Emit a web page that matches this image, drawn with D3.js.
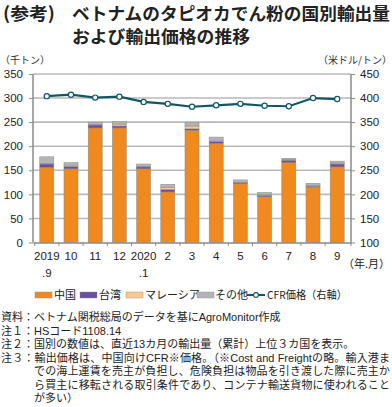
<!DOCTYPE html>
<html><head><meta charset="utf-8">
<script src="https://cdn.jsdelivr.net/npm/d3@7"></script>
<style>
html,body{margin:0;padding:0;background:#fff;}
body{position:relative;width:392px;height:407px;overflow:hidden;}
svg{display:block;font-family:"Noto Sans CJK JP","Noto Sans",sans-serif;}
.note{position:absolute;font-family:"Liberation Sans","Noto Sans CJK JP",sans-serif;font-size:11px;line-height:13.5px;height:13.5px;color:#222;white-space:nowrap;}
.just{text-align:justify;text-align-last:justify;}
</style></head>
<body><svg id="c" width="392" height="407"></svg>
<script>
const months = ["2019\n.9","10","11","12","2020\n.1","2","3","4","5","6","7","8","9"];
const china = [156, 153, 238, 238, 153, 105, 233, 206, 122, 95, 166, 115, 157];
const taiwan = [7, 5, 6, 4, 4, 5, 3, 4, 2, 3, 5, 2, 6];
const malaysia = [1, 1, 1, 4, 1, 4, 6, 1, 1, 1, 1, 1, 2];
const other = [14, 7, 5, 5, 5, 7, 8, 8, 5, 5, 3, 5, 4];
const cfrPrice = [404, 407, 401, 403, 392, 388, 382, 385, 388, 384, 383, 400, 398];
const leftTicks = [0,50,100,150,200,250,300,350];
const rightTicks = [100,150,200,250,300,350,400,450];
const seriesNames = ["中国","台湾","マレーシア","その他"];
const seriesColors = ["#F08A1E","#6A4FA0","#FCC890","#B4B4B4"];
const lineName = "CFR価格（右軸）";
const notes = [
 "資料：ベトナム関税総局のデータを基にAgroMonitor作成",
 "注１：HSコード1108.14",
 "注２：国別の数値は、直近13カ月の輸出量（累計）上位３カ国を表示。",
 "注３：輸出価格は、中国向けCFR※価格。（※Cost and Freightの略。輸入港ま",
 "での海上運賃を売主が負担し、危険負担は物品を引き渡した際に売主か",
 "ら買主に移転される取引条件であり、コンテナ輸送貨物に使われること",
 "が多い）"
];

const svg = d3.select("#c");
const X0 = 33, X1 = 351, Y0 = 242.5, Y1 = 74;

// Title
svg.append("text").attr("x",3).attr("y",20).attr("font-size",17.5).attr("font-weight","bold").attr("fill","#222")
  .attr("textLength",52).attr("lengthAdjust","spacingAndGlyphs").text("(参考)");
svg.append("text").attr("x",72).attr("y",20).attr("font-size",17.5).attr("font-weight","bold").attr("fill","#222")
  .attr("textLength",318).attr("lengthAdjust","spacingAndGlyphs").text("ベトナムのタピオカでん粉の国別輸出量");
svg.append("text").attr("x",72).attr("y",43).attr("font-size",17.5).attr("font-weight","bold").attr("fill","#222")
  .attr("textLength",178).attr("lengthAdjust","spacingAndGlyphs").text("および輸出価格の推移");

// axis titles
svg.append("text").attr("x",0).attr("y",64).attr("font-size",10).attr("fill","#333").text("（千トン）");
svg.append("text").attr("x",392).attr("y",64).attr("text-anchor","end").attr("font-size",10).attr("fill","#333").text("（米ドル/トン）");

const x = d3.scaleBand().domain(months).range([X0,X1]).paddingInner(0.42).paddingOuter(0.28);
const yL = d3.scaleLinear().domain([0,350]).range([Y0,Y1]);
const yR = d3.scaleLinear().domain([100,450]).range([Y0,Y1]);

// gridlines
svg.append("g").selectAll("line").data(leftTicks.filter(d=>d>0)).join("line")
  .attr("x1",X0).attr("x2",X1).attr("y1",d=>yL(d)).attr("y2",d=>yL(d))
  .attr("stroke","#b9b9b9").attr("stroke-width",1.6);

// stacked bars
const stackData = months.map((m,i)=>({m, "中国":china[i],"台湾":taiwan[i],"マレーシア":malaysia[i],"その他":other[i]}));
const stacked = d3.stack().keys(seriesNames)(stackData);
svg.append("g").selectAll("g").data(stacked).join("g")
  .attr("fill",(d,i)=>seriesColors[i])
  .selectAll("rect").data(d=>d).join("rect")
  .attr("x",d=>x(d.data.m)).attr("width",x.bandwidth())
  .attr("y",d=>yL(d[1])).attr("height",d=>yL(d[0])-yL(d[1]))
  .attr("stroke","#8a8a8a").attr("stroke-width",0.5);

// axes
const axL = svg.append("g").attr("transform",`translate(${X0},0)`)
  .call(d3.axisLeft(yL).tickValues(leftTicks).tickSize(4).tickPadding(6));
const axR = svg.append("g").attr("transform",`translate(${X1},0)`)
  .call(d3.axisRight(yR).tickValues(rightTicks).tickSize(4).tickPadding(5));
const axB = svg.append("g").attr("transform",`translate(0,${Y0})`)
  .call(d3.axisBottom(x).tickSize(0).tickFormat(""));
[axL,axR,axB].forEach(a=>{
  a.select(".domain").attr("stroke","#8a8a8a").attr("stroke-width",1.5);
  a.selectAll(".tick line").attr("stroke","#8a8a8a");
  a.selectAll("text").attr("font-size",11.5).attr("fill","#222").attr("font-family","Arial,'Liberation Sans',sans-serif");
});
axL.select(".domain").attr("d",`M0,${Y1}V${Y0}`);
axR.select(".domain").attr("d",`M0,${Y1}V${Y0}`);
// category boundary ticks
const bounds = months.map(m=>x(m)-x.step()*x.paddingInner()/2).concat([X1]);
svg.append("g").selectAll("line").data(bounds).join("line")
  .attr("x1",d=>d).attr("x2",d=>d).attr("y1",Y0).attr("y2",Y0+3.5)
  .attr("stroke","#8a8a8a").attr("stroke-width",1);

// x labels
const xl = svg.append("g").attr("font-size",11.5).attr("fill","#222").attr("font-family","Arial,'Liberation Sans',sans-serif");
months.forEach(m=>{
  const parts = m.split("\n");
  parts.forEach((p,j)=>{
    xl.append("text").attr("x",x(m)+x.bandwidth()/2).attr("y",260+j*17).attr("text-anchor","middle").text(p);
  });
});
svg.append("text").attr("x",390).attr("y",268).attr("text-anchor","end").attr("font-size",11).attr("fill","#222").text("（年.月）");

// price line
const line = d3.line().x((d,i)=>x(months[i])+x.bandwidth()/2).y(d=>yR(d));
svg.append("path").datum(cfrPrice).attr("d",line).attr("fill","none").attr("stroke","#0F5764").attr("stroke-width",2.2);
svg.append("g").selectAll("circle").data(cfrPrice).join("circle")
  .attr("cx",(d,i)=>x(months[i])+x.bandwidth()/2).attr("cy",d=>yR(d)).attr("r",2.6)
  .attr("fill","#fff").attr("stroke","#0F5764").attr("stroke-width",1.2);

// legend
const lg = svg.append("g").attr("font-size",11).attr("fill","#222");
const swX = [35,80,126,197];
const txX = [54,99,145,215];
seriesNames.forEach((n,i)=>{
  lg.append("rect").attr("x",swX[i]).attr("y",292).attr("width",17).attr("height",6).attr("fill",seriesColors[i]).attr("stroke","#8a8a8a").attr("stroke-width",0.4);
  lg.append("text").attr("x",txX[i]).attr("y",299).text(n);
});
lg.append("line").attr("x1",247).attr("x2",265).attr("y1",295).attr("y2",295).attr("stroke","#0F5764").attr("stroke-width",2);
lg.append("circle").attr("cx",256).attr("cy",295).attr("r",2.4).attr("fill","#fff").attr("stroke","#0F5764").attr("stroke-width",1.1);
lg.append("text").attr("x",267).attr("y",299).attr("textLength",80).attr("lengthAdjust","spacingAndGlyphs").text(lineName);

// notes (HTML, tight line spacing)
const nTop = [311,324.5,338,351.5,365,378.5,392];
const nx = [1,1,1,1,34,34,34];
const nW = [null,null,null,389,356,356,null];
notes.forEach((t,i)=>{
  const d = d3.select("body").append("div").attr("class","note"+(nW[i]?" just":""))
    .style("left",nx[i]+"px").style("top",nTop[i]+"px").text(t);
  if(nW[i]) d.style("width",nW[i]+"px");
});
</script></body></html>
